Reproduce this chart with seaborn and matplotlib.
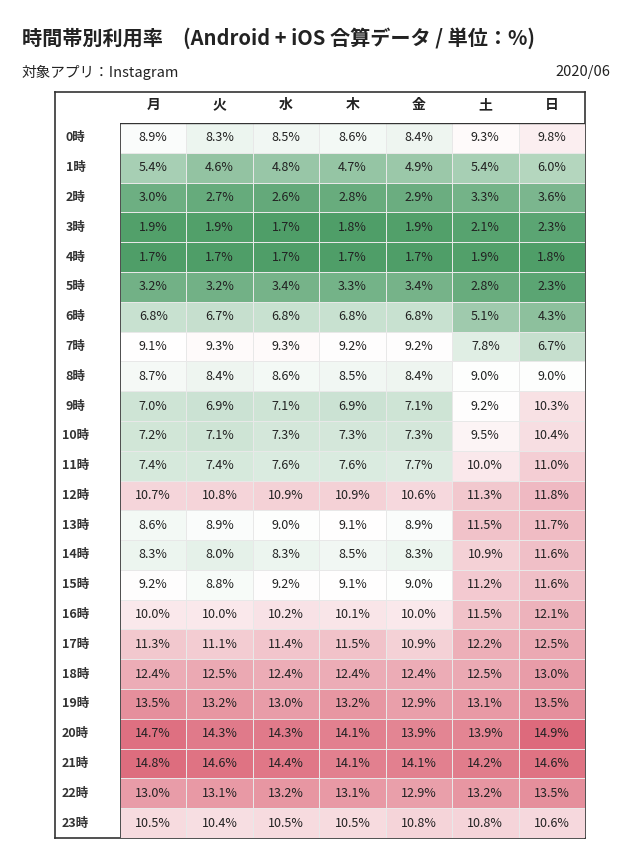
import numpy as np
import pandas as pd
import matplotlib
matplotlib.use("Agg")
import matplotlib.pyplot as plt
import seaborn as sns
from matplotlib.colors import LinearSegmentedColormap

days = ["月", "火", "水", "木", "金", "土", "日"]
hours = [f"{h}時" for h in range(24)]
mon = [8.9, 5.4, 3.0, 1.9, 1.7, 3.2, 6.8, 9.1, 8.7, 7.0, 7.2, 7.4, 10.7, 8.6, 8.3, 9.2, 10.0, 11.3, 12.4, 13.5, 14.7, 14.8, 13.0, 10.5]
tue = [8.3, 4.6, 2.7, 1.9, 1.7, 3.2, 6.7, 9.3, 8.4, 6.9, 7.1, 7.4, 10.8, 8.9, 8.0, 8.8, 10.0, 11.1, 12.5, 13.2, 14.3, 14.6, 13.1, 10.4]
wed = [8.5, 4.8, 2.6, 1.7, 1.7, 3.4, 6.8, 9.3, 8.6, 7.1, 7.3, 7.6, 10.9, 9.0, 8.3, 9.2, 10.2, 11.4, 12.4, 13.0, 14.3, 14.4, 13.2, 10.5]
thu = [8.6, 4.7, 2.8, 1.8, 1.7, 3.3, 6.8, 9.2, 8.5, 6.9, 7.3, 7.6, 10.9, 9.1, 8.5, 9.1, 10.1, 11.5, 12.4, 13.2, 14.1, 14.1, 13.1, 10.5]
fri = [8.4, 4.9, 2.9, 1.9, 1.7, 3.4, 6.8, 9.2, 8.4, 7.1, 7.3, 7.7, 10.6, 8.9, 8.3, 9.0, 10.0, 10.9, 12.4, 12.9, 13.9, 14.1, 12.9, 10.8]
sat = [9.3, 5.4, 3.3, 2.1, 1.9, 2.8, 5.1, 7.8, 9.0, 9.2, 9.5, 10.0, 11.3, 11.5, 10.9, 11.2, 11.5, 12.2, 12.5, 13.1, 13.9, 14.2, 13.2, 10.8]
sun = [9.8, 6.0, 3.6, 2.3, 1.8, 2.3, 4.3, 6.7, 9.0, 10.3, 10.4, 11.0, 11.8, 11.7, 11.6, 11.6, 12.1, 12.5, 13.0, 13.5, 14.9, 14.6, 13.5, 10.6]

df = pd.DataFrame(dict(zip(days, [mon, tue, wed, thu, fri, sat, sun])), index=hours)
annot = df.map(lambda v: f"{v:.1f}%")

plt.rcParams['font.family'] = ['Noto Sans CJK JP', 'DejaVu Sans']
cmap = LinearSegmentedColormap.from_list("gwr", ["#4f9e68", "#ffffff", "#d4445a"])

fig = plt.figure(figsize=(6.44, 8.5), dpi=100)
W, H = 644, 850

# outer table frame
frame = fig.add_axes([55 / W, 1 - 838 / H, 530 / W, (838 - 92) / H])
frame.set_xticks([]); frame.set_yticks([])
for s in frame.spines.values():
    s.set_color("#333333"); s.set_linewidth(1.2)

ax = fig.add_axes([120 / W, 1 - 838 / H, 465 / W, (838 - 123) / H])
sns.heatmap(df, ax=ax, cmap=cmap, vmin=1.7, vmax=15.0, center=9.1,
            annot=annot, fmt="", cbar=False, linewidths=0.6, linecolor="#e8e8e8",
            annot_kws={"fontsize": 9, "color": "#222222"})
ax.xaxis.tick_top()
ax.tick_params(length=0, pad=8)
ax.set_xticklabels(days, fontsize=10, fontweight="bold", color="#222222")
ax.set_yticklabels(hours, rotation=0, fontsize=9, fontweight="bold", color="#333333")
for lbl in ax.get_yticklabels():
    lbl.set_horizontalalignment("center")
ax.tick_params(axis="y", pad=32)
ax.set_xlabel(""); ax.set_ylabel("")
ax.axvline(0, color="#333333", lw=1.2)
ax.axhline(0, color="#333333", lw=1.0)

fig.text(22 / W, 1 - 38 / H, "時間帯別利用率　(Android + iOS 合算データ / 単位：%)",
         fontsize=14.5, fontweight="bold", va="center", color="#222222")
fig.text(22 / W, 1 - 72 / H, "対象アプリ：Instagram", fontsize=10.5, va="center", color="#222222")
fig.text(610 / W, 1 - 72 / H, "2020/06", fontsize=10.5, va="center", ha="right", color="#222222")

fig.savefig("out.png", dpi=100, facecolor="white")
